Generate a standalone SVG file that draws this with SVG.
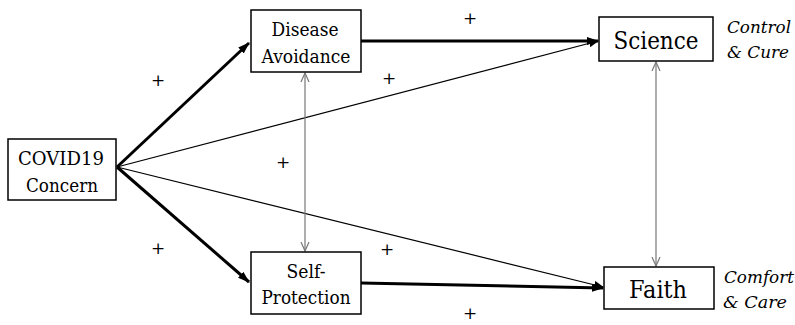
<svg xmlns="http://www.w3.org/2000/svg" width="795" height="325" viewBox="0 0 795 325">
<defs>
<style>
text{font-family:'DejaVu Serif','Liberation Serif',serif;fill:#000}
.box{fill:#fff;stroke:#000;stroke-width:1.5}
.t{text-anchor:middle}
.n{font-size:19px}
.big{font-size:24px}
.it{font-style:italic;font-size:17px}
.plus{font-size:17px;text-anchor:middle}
.thick{stroke:#000;stroke-width:3;fill:none}
.thin{stroke:#000;stroke-width:1.2;fill:none}
.gray{stroke:#777;stroke-width:1.2;fill:none}
</style>
<marker id="ah" markerWidth="10" markerHeight="8" refX="9" refY="4" orient="auto" markerUnits="userSpaceOnUse">
<path d="M0,0 L10,4 L0,8 Z" fill="#000"/>
</marker>
<marker id="ahs" markerWidth="12" markerHeight="8" refX="11" refY="4" orient="auto" markerUnits="userSpaceOnUse">
<path d="M0,0 L12,4 L0,8 Z" fill="#000"/>
</marker>
<marker id="op" markerWidth="10" markerHeight="10" refX="9" refY="5" orient="auto-start-reverse" markerUnits="userSpaceOnUse">
<path d="M0,1 L9,5 L0,9" fill="none" stroke="#777" stroke-width="1.2"/>
</marker>
</defs>
<g id="connectors">
<line class="thick" x1="117" y1="167" x2="249" y2="43" marker-end="url(#ahs)"/>
<line class="thick" x1="117" y1="167" x2="249" y2="282" marker-end="url(#ahs)"/>
<line class="thin" x1="117" y1="167" x2="598" y2="41" marker-end="url(#ah)"/>
<line class="thin" x1="117" y1="167" x2="603" y2="287" marker-end="url(#ah)"/>
<line class="thick" x1="361" y1="41" x2="598" y2="41" marker-end="url(#ahs)"/>
<line class="thick" x1="361" y1="283" x2="603" y2="288" marker-end="url(#ahs)"/>
<line class="gray" x1="305" y1="73" x2="305" y2="251" marker-start="url(#op)" marker-end="url(#op)"/>
<line class="gray" x1="656" y1="62" x2="656" y2="266" marker-start="url(#op)" marker-end="url(#op)"/>
</g>
<g id="covid">
<rect class="box" x="8" y="139" width="108" height="61"/>
<text class="t n" x="61" y="165" textLength="86" lengthAdjust="spacingAndGlyphs">COVID19</text>
<text class="t n" x="62" y="192" textLength="72" lengthAdjust="spacingAndGlyphs">Concern</text>
</g>
<g id="disease">
<rect class="box" x="251" y="10" width="110" height="62"/>
<text class="t n" x="305" y="36" textLength="67" lengthAdjust="spacingAndGlyphs">Disease</text>
<text class="t n" x="306" y="63" textLength="89" lengthAdjust="spacingAndGlyphs">Avoidance</text>
</g>
<g id="selfprot">
<rect class="box" x="251" y="252" width="110" height="62"/>
<text class="t n" x="306" y="278" textLength="39" lengthAdjust="spacingAndGlyphs">Self-</text>
<text class="t n" x="306" y="304" textLength="89" lengthAdjust="spacingAndGlyphs">Protection</text>
</g>
<g id="science">
<rect class="box" x="599" y="17" width="114" height="44"/>
<text class="t big" x="656" y="49" textLength="85" lengthAdjust="spacingAndGlyphs">Science</text>
</g>
<g id="faith">
<rect class="box" x="604" y="267" width="110" height="42"/>
<text class="t big" x="658" y="298" textLength="58" lengthAdjust="spacingAndGlyphs">Faith</text>
</g>
<g id="labels">
<text class="it" x="727" y="33" textLength="64" lengthAdjust="spacingAndGlyphs">Control</text>
<text class="it" x="727" y="58" textLength="62" lengthAdjust="spacingAndGlyphs">&amp; Cure</text>
<text class="it" x="724" y="283" textLength="70" lengthAdjust="spacingAndGlyphs">Comfort</text>
<text class="it" x="723" y="308" textLength="64" lengthAdjust="spacingAndGlyphs">&amp; Care</text>
<text class="plus" x="158" y="86">+</text>
<text class="plus" x="470" y="24">+</text>
<text class="plus" x="389" y="84">+</text>
<text class="plus" x="283" y="168">+</text>
<text class="plus" x="158" y="254">+</text>
<text class="plus" x="387" y="255">+</text>
<text class="plus" x="470" y="319">+</text>
</g>
</svg>
